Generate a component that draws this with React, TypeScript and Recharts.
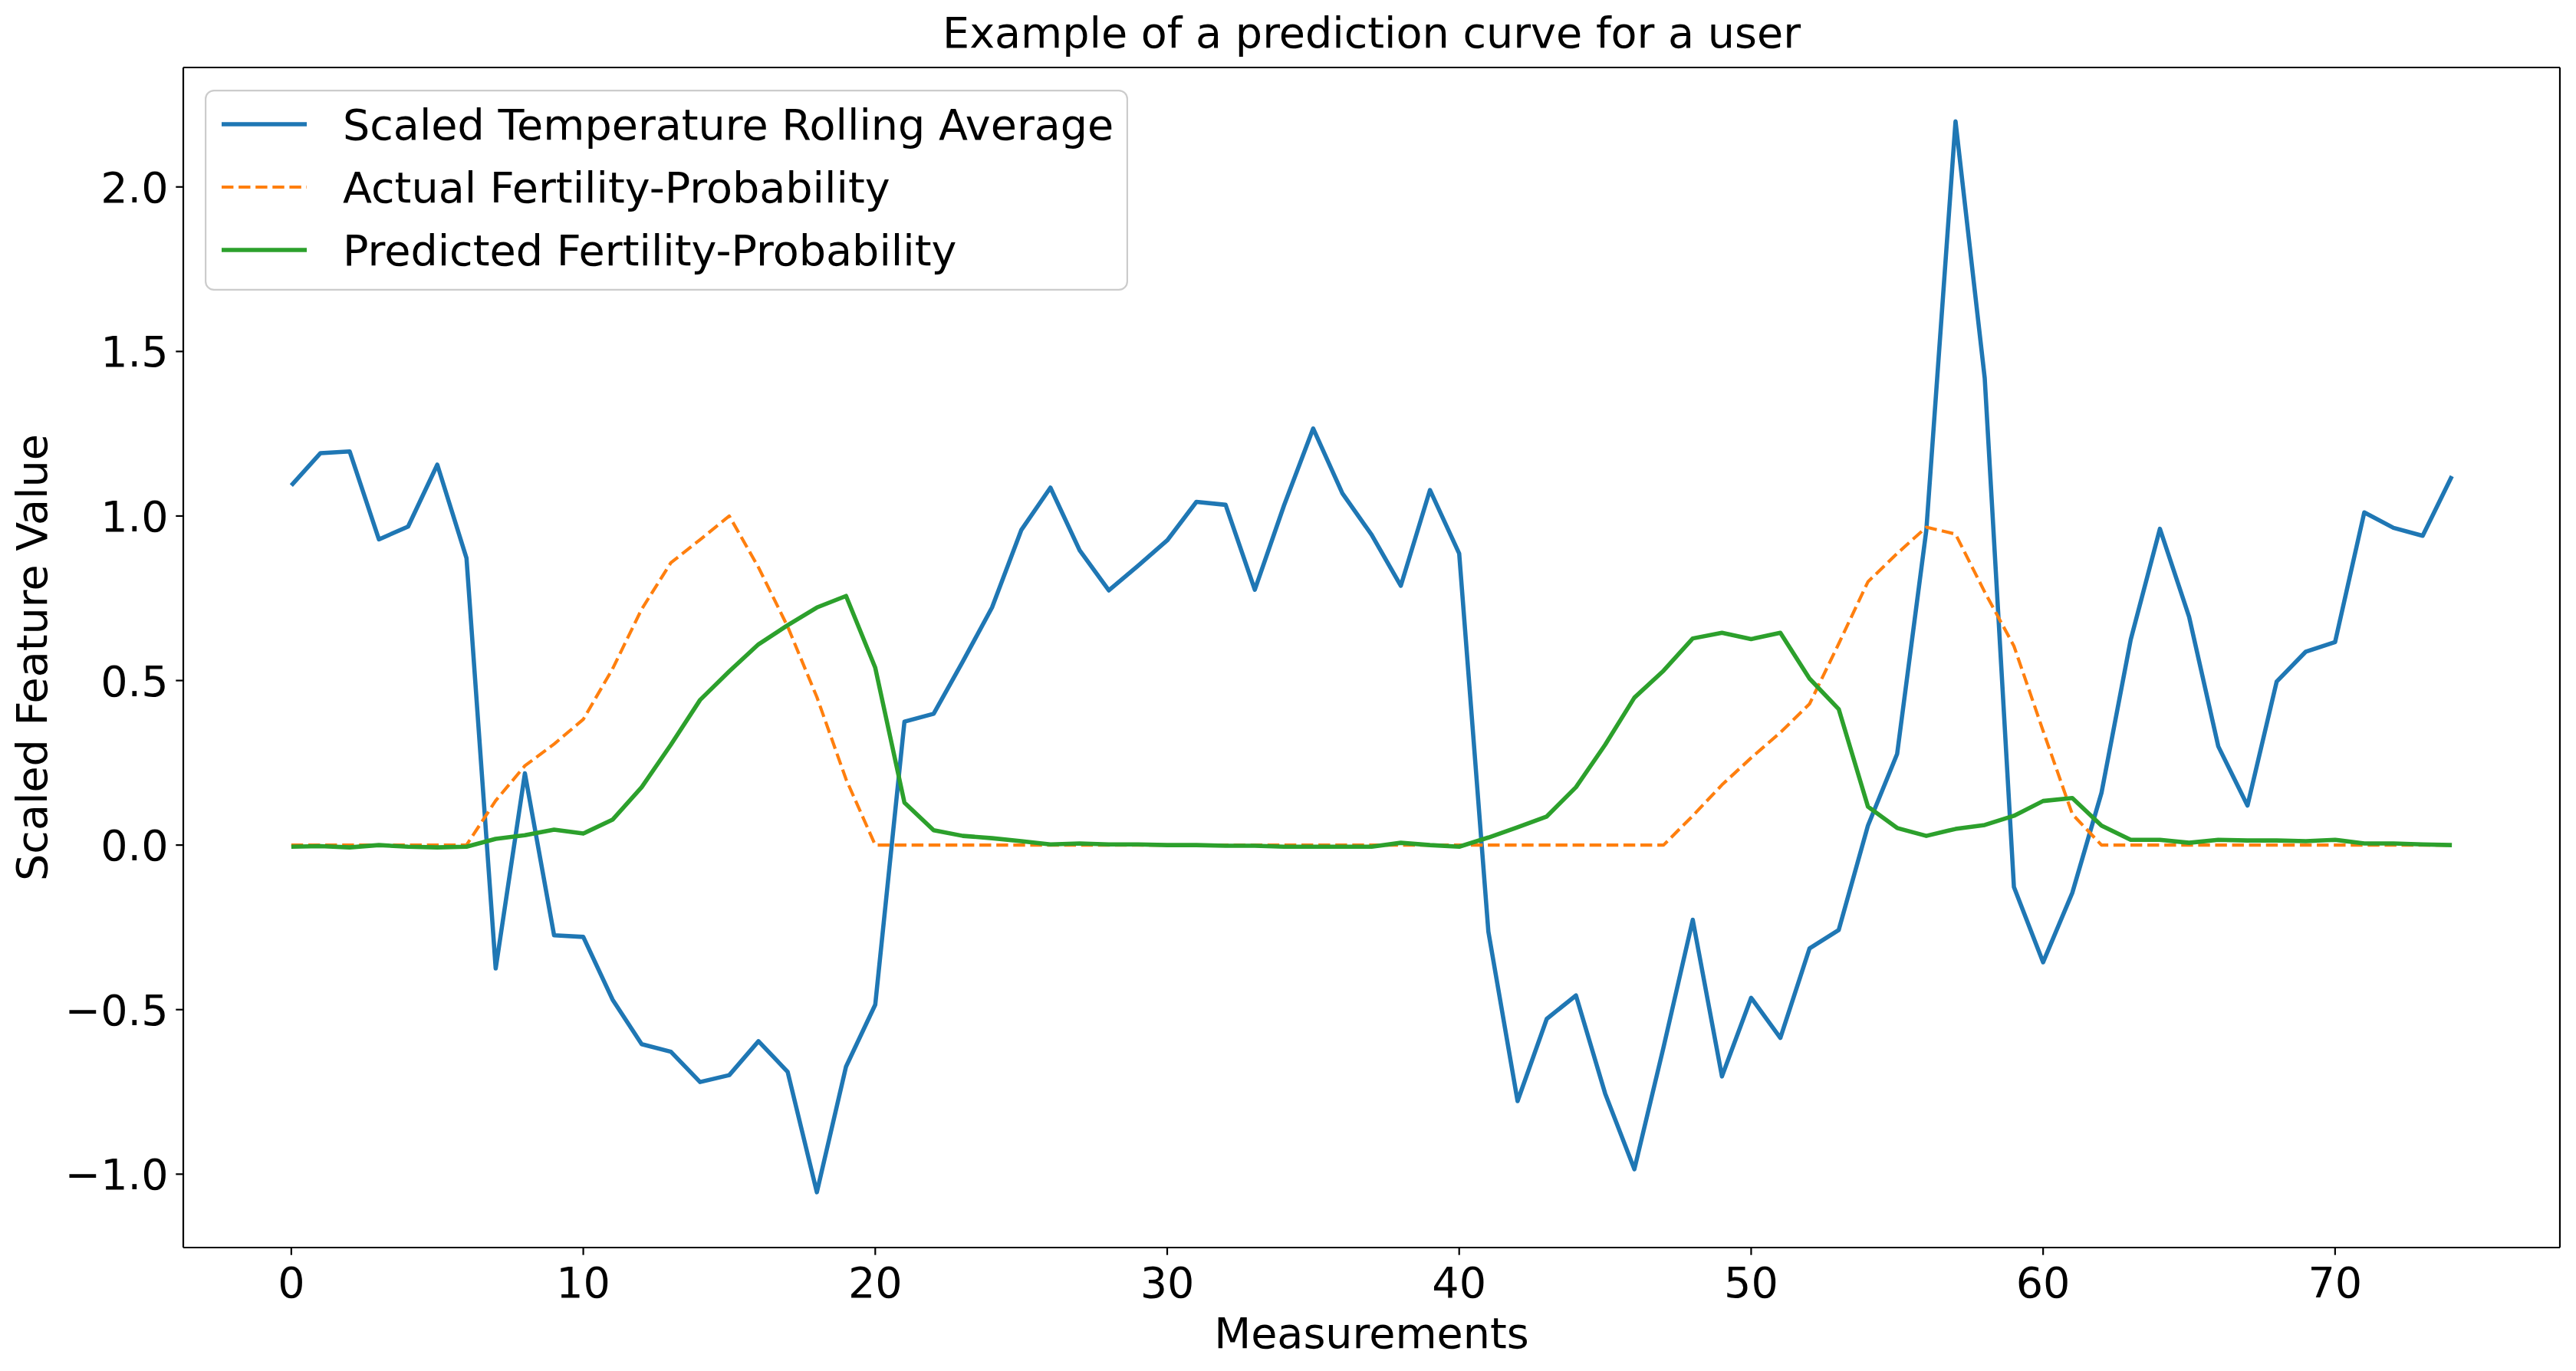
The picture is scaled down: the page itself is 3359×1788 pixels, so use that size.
import { LineChart, Line, XAxis, YAxis, Legend, ReferenceLine } from 'recharts';

const MEASUREMENTS = Array.from({ length: 75 }, (_, i) => i);

const TEMP_ROLLING = [
  1.093, 1.191, 1.196, 0.929, 0.968, 1.156, 0.872, -0.375, 0.218, -0.274,
  -0.279, -0.469, -0.605, -0.628, -0.72, -0.699, -0.596, -0.689, -1.055, -0.673,
  -0.485, 0.375, 0.399, 0.558, 0.722, 0.957, 1.086, 0.896, 0.774, 0.849,
  0.926, 1.043, 1.034, 0.776, 1.032, 1.266, 1.069, 0.943, 0.788, 1.079,
  0.886, -0.263, -0.778, -0.528, -0.457, -0.755, -0.985, -0.614, -0.227, -0.703,
  -0.464, -0.586, -0.314, -0.258, 0.059, 0.277, 0.957, 2.199, 1.419, -0.127,
  -0.356, -0.145, 0.159, 0.624, 0.961, 0.694, 0.3, 0.12, 0.497, 0.588,
  0.617, 1.011, 0.964, 0.94, 1.121,
];

const ACTUAL_PROB = [
  0, 0, 0, 0, 0, 0, 0, 0.135, 0.241, 0.307,
  0.382, 0.535, 0.717, 0.858, 0.928, 1.0, 0.844, 0.664, 0.45, 0.2,
  0, 0, 0, 0, 0, 0, 0, 0, 0, 0,
  0, 0, 0, 0, 0, 0, 0, 0, 0, 0,
  0, 0, 0, 0, 0, 0, 0, 0, 0.089, 0.183,
  0.265, 0.342, 0.429, 0.612, 0.8, 0.886, 0.966, 0.945, 0.769, 0.605,
  0.347, 0.094, 0, 0, 0, 0, 0, 0, 0, 0,
  0, 0, 0, 0, 0,
];

const PREDICTED_PROB = [
  -0.005, -0.003, -0.007, 0, -0.005, -0.007, -0.005, 0.019, 0.03, 0.047,
  0.035, 0.077, 0.176, 0.305, 0.441, 0.528, 0.61, 0.668, 0.722, 0.757,
  0.539, 0.129, 0.045, 0.028, 0.021, 0.012, 0.002, 0.005, 0.002, 0.002,
  0, 0, -0.002, -0.002, -0.005, -0.005, -0.005, -0.005, 0.007, 0,
  -0.005, 0.023, 0.054, 0.087, 0.176, 0.305, 0.448, 0.53, 0.628, 0.645,
  0.626, 0.645, 0.506, 0.413, 0.117, 0.052, 0.028, 0.049, 0.061, 0.089,
  0.134, 0.143, 0.059, 0.016, 0.016, 0.007, 0.016, 0.014, 0.014, 0.012,
  0.016, 0.005, 0.005, 0.002, 0,
];

const X_TICKS = [0, 10, 20, 30, 40, 50, 60, 70];
const Y_TICKS = [-1, -0.5, 0, 0.5, 1, 1.5, 2];

const SERIES = [
  { key: 'temp', name: 'Scaled Temperature Rolling Average', color: '#1f77b4', width: 5.56, dash: undefined },
  { key: 'actual', name: 'Actual Fertility-Probability', color: '#ff7f0e', width: 4.17, dash: '15.4 6.7' },
  { key: 'predicted', name: 'Predicted Fertility-Probability', color: '#2ca02c', width: 5.56, dash: undefined },
];

const data = MEASUREMENTS.map((x, i) => ({
  x,
  temp: TEMP_ROLLING[i],
  actual: ACTUAL_PROB[i],
  predicted: PREDICTED_PROB[i],
}));

const W = 3359;
const H = 1788;
const FONT = '"DejaVu Sans", sans-serif';
const FS = 55.6;
const X_DOMAIN = [-3.7, 77.7];
const Y_DOMAIN = [-1.223, 2.363];
const AXIS = { stroke: '#000', strokeWidth: 2.2 };

const fmtY = (v: number) => v.toFixed(1).replace('-', '\u2212');

const XTick = (props: any) => (
  <text x={props.x} y={props.y + 55} textAnchor="middle" fontSize={FS} fontFamily={FONT} fill="#000">
    {props.payload.value}
  </text>
);

const YTick = (props: any) => (
  <text x={props.x - 9.7} y={props.y + 20} textAnchor="end" fontSize={FS} fontFamily={FONT} fill="#000">
    {fmtY(props.payload.value)}
  </text>
);

// legend keeps the plotting order, not recharts' sorted payload
const LegendBox = () => (
  <svg width={1204} height={262} style={{ display: 'block' }}>
    <rect x={1.1} y={1.1} width={1201.8} height={259.8} rx={11} ry={11}
      fill="#fff" fillOpacity={0.8} stroke="#cccccc" strokeWidth={2.2} />
    {SERIES.map((s, i) => {
      const cy = 45 + i * 82;
      return (
        <g key={s.key}>
          <line x1={22} x2={133} y1={cy} y2={cy} stroke={s.color} strokeWidth={s.width} strokeDasharray={s.dash} />
          <text x={180} y={cy + 20} fontSize={FS} fontFamily={FONT} fill="#000">{s.name}</text>
        </g>
      );
    })}
  </svg>
);

export default function App() {
  return (
    <div style={{ position: 'absolute', left: 0, top: 0, width: W, height: H, background: '#fff' }}>
      <LineChart width={W} height={H} data={data} margin={{ top: 88, right: 21, bottom: 0, left: 0 }}>
        <XAxis dataKey="x" type="number" domain={X_DOMAIN} ticks={X_TICKS} allowDataOverflow
          height={161} tickSize={9.7} tickMargin={0} axisLine={AXIS} tickLine={AXIS} tick={XTick} />
        <YAxis type="number" domain={Y_DOMAIN} ticks={Y_TICKS} allowDataOverflow
          width={239} tickSize={9.7} tickMargin={0} axisLine={AXIS} tickLine={AXIS} tick={YTick} />
        {/* top and right spines */}
        <ReferenceLine y={Y_DOMAIN[1]} stroke="#000" strokeWidth={2.2} ifOverflow="extendDomain" />
        <ReferenceLine x={X_DOMAIN[1]} stroke="#000" strokeWidth={2.2} ifOverflow="extendDomain" />
        <Legend layout="vertical" align="center" verticalAlign="middle" content={LegendBox}
          wrapperStyle={{ left: 267, top: 117, width: 1204, height: 262 }} />
        {SERIES.map((s) => (
          <Line key={s.key} type="linear" dataKey={s.key} name={s.name} stroke={s.color}
            strokeWidth={s.width} strokeDasharray={s.dash} strokeLinejoin="round"
            dot={false} activeDot={false} isAnimationActive={false} />
        ))}
        <text x={1788.5} y={62} textAnchor="middle" fontSize={FS} fontFamily={FONT} fill="#000">
          Example of a prediction curve for a user
        </text>
        <text x={1788.5} y={1758} textAnchor="middle" fontSize={FS} fontFamily={FONT} fill="#000">
          Measurements
        </text>
        <text x={61} y={857.5} textAnchor="middle" fontSize={FS} fontFamily={FONT} fill="#000"
          transform="rotate(-90 61 857.5)">
          Scaled Feature Value
        </text>
      </LineChart>
    </div>
  );
}
